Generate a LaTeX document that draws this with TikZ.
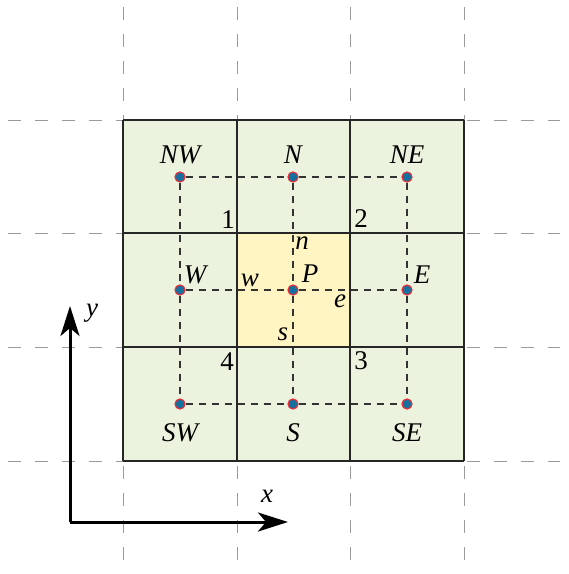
\documentclass[tikz,border=0pt]{standalone}
\usepackage{fontspec}
\setmainfont{Liberation Serif}
\usetikzlibrary{arrows.meta}
\definecolor{cellgreen}{HTML}{EBF2DD}
\definecolor{cellyellow}{HTML}{FEF5C2}
\definecolor{dotblue}{HTML}{14709F}
\definecolor{dotred}{HTML}{E0303A}
\definecolor{outgray}{HTML}{9A9A9A}
\definecolor{ingray}{HTML}{333333}
\tikzset{
  pt/.style={circle,fill=dotblue,draw=dotred,line width=1.2pt,inner sep=0pt,minimum size=10pt},
  lab/.style={font=\fontsize{27}{30}\selectfont\itshape,inner sep=0pt},
  num/.style={font=\fontsize{27}{30}\selectfont,inner sep=0pt},
  outdash/.style={draw=outgray,line width=1pt,dash pattern=on 13pt off 14pt},
  indash/.style={draw=ingray,line width=1.3pt,dash pattern=on 7pt off 6pt},
  gridline/.style={draw=black!85,line width=1.4pt},
  axis/.style={line width=3pt,-{Stealth[length=30pt,width=19pt,inset=8pt]}}
}
\begin{document}
\begin{tikzpicture}[x=1pt,y=-1pt]
\useasboundingbox (0,0) rectangle (569,574);
% cells
\fill[cellgreen] (123,120) rectangle (464,461);
\fill[cellyellow] (237,233) rectangle (350,347);
% outer dashed lines
\foreach \x in {123,237,350,464} \draw[outdash] (\x,7) -- (\x,574);
\foreach \y in {120,233,347,461} \draw[outdash] (8,\y) -- (560,\y);
% grid
\foreach \x in {123,237,350,464} \draw[gridline] (\x,120) -- (\x,461);
\foreach \y in {120,233,347,461} \draw[gridline] (123,\y) -- (464,\y);
% points
\node[pt] (NW) at (180,177) {};
\node[pt] (N) at (293,177) {};
\node[pt] (NE) at (407,177) {};
\node[pt] (W) at (180,290) {};
\node[pt] (P) at (293,290) {};
\node[pt] (E) at (407,290) {};
\node[pt] (SW) at (180,404) {};
\node[pt] (S) at (293,404) {};
\node[pt] (SE) at (407,404) {};
% dashed connectors
\draw[indash] (NW) -- (N); \draw[indash] (N) -- (NE);
\draw[indash] (W) -- (P); \draw[indash] (P) -- (E);
\draw[indash] (SW) -- (S); \draw[indash] (S) -- (SE);
\draw[indash] (NW) -- (W); \draw[indash] (W) -- (SW);
\draw[indash] (N) -- (P); \draw[indash] (P) -- (S);
\draw[indash] (NE) -- (E); \draw[indash] (E) -- (SE);
% labels
\node[lab] (lNW) at (180,155) {NW};
\node[lab] (lN) at (293,155) {N};
\node[lab] (lNE) at (407,155) {NE};
\node[lab] (lW) at (195,275) {W};
\node[lab] (lP) at (310,274) {P};
\node[lab] (lE) at (422,275) {E};
\node[lab] (lSW) at (180,433) {SW};
\node[lab] (lS) at (293,433) {S};
\node[lab] (lSE) at (407,433) {SE};
\node[lab] (ln) at (302,243) {n};
\node[lab] (ls) at (283,334) {s};
\node[lab] (lw) at (250,280) {w};
\node[lab] (le) at (340,301) {e};
\node[num] (n1) at (228,220) {1};
\node[num] (n2) at (361,219) {2};
\node[num] (n3) at (361,361) {3};
\node[num] (n4) at (227,362) {4};
% axes
\coordinate (O) at (70,522);
\coordinate (Yend) at (70,306);
\coordinate (Xend) at (288,522);
\draw[axis] (O) -- (Yend);
\draw[axis] (O) -- (Xend);
\node[lab] (ly) at (92,313) {y};
\node[lab] (lx) at (267,496) {x};
\end{tikzpicture}
\end{document}
